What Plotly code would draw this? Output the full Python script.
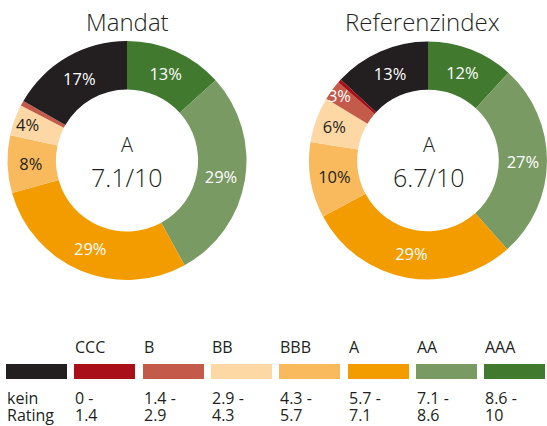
import plotly.graph_objects as go

# ---- data ----
categories = ["kein Rating", "CCC", "B", "BB", "BBB", "A", "AA", "AAA"]
colors = ["#231F20", "#A80F18", "#C45A4A", "#FDD7A4", "#F8BA5C", "#F39C00", "#799A62", "#41792F"]
mandat_values = [16.7, 0.0, 0.7, 4.2, 7.8, 28.6, 28.7, 13.3]
index_values = [13.1, 0.5, 2.7, 6.2, 10.3, 28.8, 26.6, 11.8]
mandat_labels = ["17%", "", "", "4%", "8%", "29%", "29%", "13%"]
index_labels = ["13%", "", "3%", "6%", "10%", "29%", "27%", "12%"]
label_colors = ["#FFFFFF", "#FFFFFF", "#FFFFFF", "#231F20", "#231F20", "#FFFFFF", "#FFFFFF", "#FFFFFF"]
titles = ["Mandat", "Referenzindex"]
center_rating = ["A", "A"]
center_score = ["7.1/10", "6.7/10"]
legend_top = ["", "CCC", "B", "BB", "BBB", "A", "AA", "AAA"]
legend_line1 = ["kein", "0 -", "1.4 -", "2.9 -", "4.3 -", "5.7 -", "7.1 -", "8.6 -"]
legend_line2 = ["Rating", "1.4", "2.9", "4.3", "5.7", "7.1", "8.6", "10"]

W, H = 547, 426
FONT = "Open Sans"
TXT = "#231F20"
LIGHT = 300

def px_x(v):
    return v / W

def px_y(v):
    return (H - v) / H

fig = go.Figure()

donuts = [
    dict(values=mandat_values, text=mandat_labels, x=[px_x(7), px_x(247)], cx=127),
    dict(values=index_values, text=index_labels, x=[px_x(309), 1.0], cx=429),
]
# reverse so that the slices run AAA -> kein clockwise from 12 o'clock
for d in donuts:
    f = dict(family=FONT, size=16.5, color=label_colors[::-1], weight=400)
    fig.add_trace(go.Pie(
        labels=categories[::-1],
        values=d["values"][::-1],
        text=d["text"][::-1],
        textinfo="text",
        textposition="inside",
        insidetextorientation="horizontal",
        textfont=f,
        insidetextfont=f,
        marker=dict(colors=colors[::-1], line=dict(width=0)),
        hole=0.595,
        sort=False,
        direction="clockwise",
        rotation=0,
        domain=dict(x=d["x"], y=[px_y(280), px_y(41)]),
        showlegend=False,
        hoverinfo="skip",
    ))

# legend drawn as a bar strip on its own axes
xs = list(range(len(categories)))
fig.add_trace(go.Bar(
    x=xs, y=[1] * len(xs), width=61 / 68.3,
    marker=dict(color=colors, line=dict(width=0)),
    xaxis="x", yaxis="y", showlegend=False, hoverinfo="skip",
))
unit = 68.3
a = -36.5 / unit
fig.update_layout(
    xaxis=dict(domain=[0, 1], range=[a, a + W / unit], visible=False, fixedrange=True),
    yaxis=dict(domain=[px_y(379), px_y(364)], range=[0, 1], visible=False, fixedrange=True),
)

ann = []
for i, t in enumerate(titles):
    cx = [127, 422][i]
    ann.append(dict(text=t, x=px_x(cx), y=px_y(21), xref="paper", yref="paper",
                    xanchor="center", yanchor="middle",
                    showarrow=False, font=dict(family=FONT, size=24, color=TXT, weight=LIGHT)))
for i, d in enumerate(donuts):
    ann.append(dict(text=center_rating[i], x=px_x(d["cx"]), y=px_y(144), xref="paper", yref="paper",
                    xanchor="center", yanchor="middle",
                    showarrow=False, font=dict(family=FONT, size=20, color=TXT, weight=LIGHT)))
    ann.append(dict(text=center_score[i], x=px_x(d["cx"]), y=px_y(177), xref="paper", yref="paper",
                    xanchor="center", yanchor="middle",
                    showarrow=False, font=dict(family=FONT, size=25, color=TXT, weight=LIGHT)))
half = 61 / 68.3 / 2
for i in xs:
    for txt, ypx in [(legend_top[i], 347), (legend_line1[i], 398), (legend_line2[i], 415)]:
        if txt:
            ann.append(dict(text=txt, x=i - half, y=px_y(ypx), xref="x", yref="paper",
                            xanchor="left", yanchor="middle", xshift=-1, showarrow=False,
                            font=dict(family=FONT, size=16, color=TXT, weight=400)))

fig.update_layout(
    width=W, height=H,
    margin=dict(l=0, r=0, t=0, b=0),
    paper_bgcolor="white", plot_bgcolor="white",
    annotations=ann,
    uniformtext=dict(minsize=16, mode="show"),
    bargap=0,
)

fig.write_html("out.html", config=dict(displayModeBar=False),
               post_script="document.body.style.margin='0px';")
